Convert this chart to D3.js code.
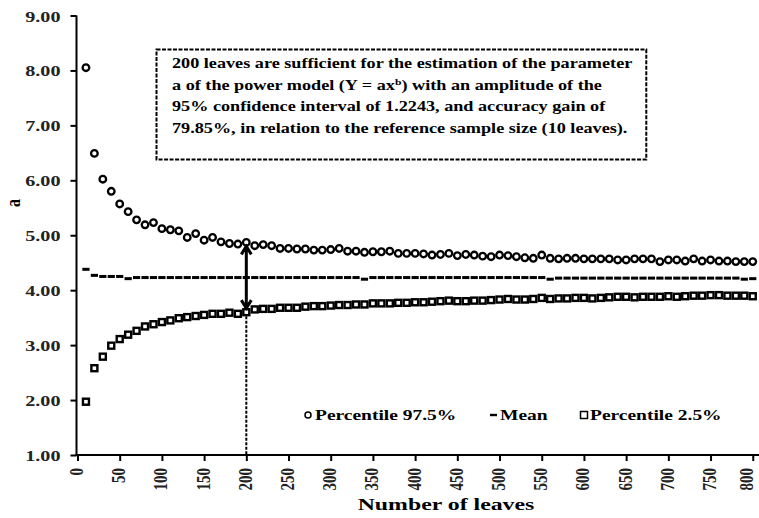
<!DOCTYPE html>
<html lang="en">
<head>
  <meta charset="UTF-8">
  <title>Parameter a vs number of leaves</title>
  <script src="https://d3js.org/d3.v7.min.js"></script>
  <style>
    body { margin: 0; background: #fff; }
    text { font-family: "Liberation Serif", "Times New Roman", serif; font-weight: bold; }
  </style>
</head>
<body>
  <div id="chart"></div>
  <script>
    // Number of leaves (sample size)
    const leaves = [10, 20, 30, 40, 50, 60, 70, 80, 90, 100, 110, 120, 130, 140, 150, 160, 170, 180, 190, 200,
      210, 220, 230, 240, 250, 260, 270, 280, 290, 300, 310, 320, 330, 340, 350, 360, 370, 380, 390, 400,
      410, 420, 430, 440, 450, 460, 470, 480, 490, 500, 510, 520, 530, 540, 550, 560, 570, 580, 590, 600,
      610, 620, 630, 640, 650, 660, 670, 680, 690, 700, 710, 720, 730, 740, 750, 760, 770, 780, 790, 800];

    // Percentile 97.5%
    const upper = [8.05, 6.49, 6.02, 5.80, 5.57, 5.43, 5.28, 5.19, 5.23, 5.12, 5.10, 5.08, 4.96, 5.03, 4.91, 4.96, 4.88, 4.85, 4.84, 4.87,
      4.81, 4.83, 4.81, 4.76, 4.76, 4.75, 4.75, 4.73, 4.73, 4.74, 4.76, 4.71, 4.71, 4.69, 4.70, 4.70, 4.71, 4.67, 4.67, 4.67,
      4.66, 4.64, 4.65, 4.67, 4.63, 4.65, 4.64, 4.62, 4.61, 4.64, 4.63, 4.61, 4.59, 4.58, 4.64, 4.58, 4.57, 4.58, 4.58, 4.57,
      4.57, 4.57, 4.57, 4.55, 4.55, 4.57, 4.57, 4.57, 4.52, 4.55, 4.55, 4.53, 4.57, 4.53, 4.55, 4.53, 4.53, 4.52, 4.52, 4.52];

    // Mean
    const mean = [4.38, 4.27, 4.25, 4.25, 4.25, 4.21, 4.23, 4.23, 4.23, 4.23, 4.23, 4.23, 4.23, 4.23, 4.23, 4.23, 4.23, 4.23, 4.23, 4.23,
      4.23, 4.23, 4.23, 4.23, 4.23, 4.23, 4.23, 4.23, 4.23, 4.23, 4.23, 4.23, 4.23, 4.20, 4.23, 4.23, 4.23, 4.23, 4.23, 4.23,
      4.23, 4.23, 4.23, 4.23, 4.23, 4.23, 4.23, 4.23, 4.23, 4.23, 4.23, 4.23, 4.23, 4.23, 4.23, 4.20, 4.22, 4.22, 4.22, 4.22,
      4.22, 4.22, 4.22, 4.22, 4.22, 4.22, 4.22, 4.22, 4.22, 4.22, 4.22, 4.22, 4.22, 4.22, 4.22, 4.22, 4.22, 4.22, 4.20, 4.21];

    // Percentile 2.5%
    const lower = [1.97, 2.58, 2.79, 2.99, 3.11, 3.19, 3.26, 3.34, 3.38, 3.42, 3.45, 3.49, 3.51, 3.53, 3.55, 3.57, 3.57, 3.59, 3.57, 3.60,
      3.65, 3.66, 3.66, 3.68, 3.68, 3.68, 3.70, 3.71, 3.71, 3.72, 3.73, 3.73, 3.74, 3.74, 3.76, 3.76, 3.76, 3.77, 3.77, 3.78,
      3.78, 3.79, 3.80, 3.81, 3.80, 3.80, 3.81, 3.81, 3.82, 3.83, 3.84, 3.83, 3.83, 3.84, 3.86, 3.84, 3.85, 3.85, 3.86, 3.86,
      3.85, 3.86, 3.87, 3.88, 3.88, 3.87, 3.88, 3.88, 3.88, 3.89, 3.88, 3.89, 3.90, 3.90, 3.91, 3.91, 3.90, 3.90, 3.90, 3.89];

    const xTicks = [0, 50, 100, 150, 200, 250, 300, 350, 400, 450, 500, 550, 600, 650, 700, 750, 800];
    const yTicks = [1, 2, 3, 4, 5, 6, 7, 8, 9];
    const legendLabels = ["Percentile 97.5%", "Mean", "Percentile 2.5%"];
    const noteLines = [
      ["200 leaves are sufficient for the estimation of the parameter"],
      ["a of the power model (Y = ax", "b", ") with an amplitude of the"],
      ["95% confidence interval of 1.2243, and accuracy gain of"],
      ["79.85%, in relation to the reference sample size (10 leaves)."]
    ];
    const markLeaves = 200;

    const width = 759, height = 518;
    const sx = 1.3; // the source picture is stretched horizontally

    const svg = d3.select("#chart").append("svg")
      .attr("width", width)
      .attr("height", height);

    const x = d3.scaleLinear().domain([0, 808]).range([77.5, 759.5]);
    const y = d3.scaleLinear().domain([1, 9]).range([455, 15.5]);

    function put(sel, px, py, rot, k) {
      return sel.attr("transform", `translate(${px},${py}) scale(${k || sx},1)` + (rot ? ` rotate(${rot})` : ""));
    }

    // y axis
    const yAxis = svg.append("g")
      .attr("transform", `translate(${x(0) - 1},0)`)
      .call(d3.axisLeft(y).tickValues(yTicks).tickSize(6).tickFormat(d3.format(".2f")));
    yAxis.select(".domain").attr("stroke-width", 2).attr("d", `M0,${y(9)}V${y(1)}`);
    yAxis.selectAll(".tick line").attr("stroke-width", 2);
    yAxis.selectAll(".tick text").each(function () {
      const t = d3.select(this);
      t.attr("x", null).attr("dy", null).attr("text-anchor", "end")
        .attr("font-size", 15.5).attr("fill", "#222");
      put(t, -16, 5.5);
    });

    // x axis
    const xAxis = svg.append("g")
      .attr("transform", `translate(0,${y(1)})`)
      .call(d3.axisBottom(x).tickValues(xTicks).tickSize(6).tickFormat(d3.format("d")));
    xAxis.select(".domain").attr("stroke-width", 2).attr("d", `M${x(0) - 2},0H${width}`);
    xAxis.selectAll(".tick line").attr("stroke-width", 2);
    xAxis.selectAll(".tick text").each(function (d) {
      const t = d3.select(this);
      t.attr("y", null).attr("dy", null).attr("text-anchor", "end")
        .attr("font-size", 15).attr("fill", "#222");
      // keep the last label inside the picture edge
      put(t, d === 800 ? 0 : 5, 13, -90, 1.25);
    });

    // axis titles
    put(svg.append("text").attr("text-anchor", "middle").attr("font-size", 17).text("Number of leaves"), 446, 510, 0, 1.4);
    put(svg.append("text").attr("text-anchor", "middle").attr("font-size", 16).text("a"), 20, 203, -90);

    // vertical dashed guide at 200 leaves
    const iMark = leaves.indexOf(markLeaves);
    svg.append("line")
      .attr("x1", x(markLeaves)).attr("x2", x(markLeaves))
      .attr("y1", y(lower[iMark]) + 4).attr("y2", y(1))
      .attr("stroke", "#000").attr("stroke-width", 2).attr("stroke-dasharray", "3,1.5");

    // series: mean dashes
    svg.append("g").selectAll("rect")
      .data(leaves.map((l, i) => [l, mean[i]]))
      .join("rect")
        .attr("x", d => x(d[0]) - 3.6)
        .attr("y", d => y(d[1]) - 1.5)
        .attr("width", 7.2)
        .attr("height", 3)
        .attr("fill", "#000");

    // series: percentile 2.5% squares
    svg.append("g").selectAll("rect")
      .data(leaves.map((l, i) => [l, lower[i]]))
      .join("rect")
        .attr("x", d => x(d[0]) - 3)
        .attr("y", d => y(d[1]) - 3)
        .attr("width", 6)
        .attr("height", 6)
        .attr("fill", "#fff")
        .attr("stroke", "#000")
        .attr("stroke-width", 2.4);

    // series: percentile 97.5% circles
    svg.append("g").selectAll("circle")
      .data(leaves.map((l, i) => [l, upper[i]]))
      .join("circle")
        .attr("cx", d => x(d[0]))
        .attr("cy", d => y(d[1]))
        .attr("r", 3.3)
        .attr("fill", "#fff")
        .attr("stroke", "#000")
        .attr("stroke-width", 2.3);

    // double-headed arrow between percentiles at 200 leaves
    const ax = x(markLeaves);
    const aTop = y(upper[iMark]) + 4, aBot = y(lower[iMark]) - 4;
    svg.append("path")
      .attr("d", `M${ax},${aTop}V${aBot}M${ax - 5},${aTop + 8}L${ax},${aTop}L${ax + 5},${aTop + 8}` +
        `M${ax - 5},${aBot - 8}L${ax},${aBot}L${ax + 5},${aBot - 8}`)
      .attr("fill", "none").attr("stroke", "#000").attr("stroke-width", 3);

    // annotation box
    const note = svg.append("g");
    const box = note.append("rect");
    let maxRight = 0;
    noteLines.forEach((parts, i) => {
      const t = note.append("text").attr("font-size", 14).attr("fill", "#000");
      parts.forEach((p, j) => {
        const ts = t.append("tspan").text(p);
        if (parts.length > 1 && j === 1) ts.attr("font-size", 9).attr("dy", -5);
        if (parts.length > 1 && j === 2) ts.attr("dy", 5);
      });
      put(t, 172, 68 + i * 21.7);
      maxRight = Math.max(maxRight, 172 + t.node().getComputedTextLength() * sx);
    });
    box.attr("x", 156.5).attr("y", 49.5)
      .attr("width", maxRight + 14 - 156.5).attr("height", 110)
      .attr("fill", "#fff").attr("stroke", "#000").attr("stroke-width", 2)
      .attr("stroke-dasharray", "4,1.5");

    // legend
    const legend = svg.append("g");
    const ly = 415;
    legend.append("circle").attr("cx", 308).attr("cy", ly).attr("r", 3)
      .attr("fill", "#fff").attr("stroke", "#000").attr("stroke-width", 1.5);
    legend.append("rect").attr("x", 490).attr("y", ly - 1.2).attr("width", 7).attr("height", 2.4).attr("fill", "#000");
    legend.append("rect").attr("x", 580.5).attr("y", ly - 3.5).attr("width", 7).attr("height", 7)
      .attr("fill", "#fff").attr("stroke", "#000").attr("stroke-width", 1.5);
    [315, 500, 590].forEach((lx, i) => {
      put(legend.append("text").attr("font-size", 15).text(legendLabels[i]), lx, ly + 4.5);
    });
  </script>
</body>
</html>
